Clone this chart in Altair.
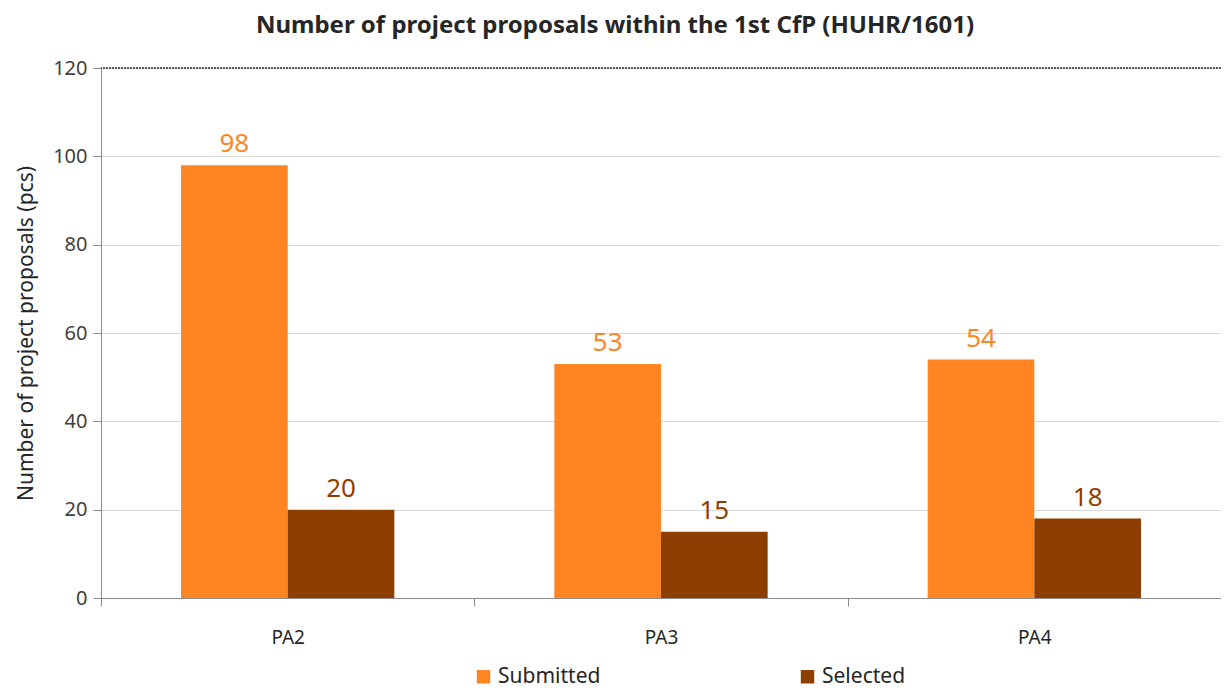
import altair as alt
import pandas as pd

categories = ["PA2", "PA3", "PA4"]
series = ["Submitted", "Selected"]
submitted = [98, 53, 54]
selected = [20, 15, 18]
colors = ["#FF8422", "#8E3E00"]

rows = []
for i, c in enumerate(categories):
    rows.append({"cat": c, "series": "Submitted", "value": submitted[i]})
    rows.append({"cat": c, "series": "Selected", "value": selected[i]})
df = pd.DataFrame(rows)

FONT = "Noto Sans"

x = alt.X("cat:N", sort=categories, title=None,
          scale=alt.Scale(paddingInner=0, paddingOuter=0),
          axis=alt.Axis(labelAngle=0, labelFontSize=19, labelColor="#262626",
                        labelPadding=22, tickBand="extent", tickSize=8,
                        tickColor="#8c8c8c", domainColor="#8c8c8c", grid=False))
xo = alt.XOffset("series:N", sort=series,
                 scale=alt.Scale(paddingOuter=0.75, paddingInner=0))
color = alt.Color("series:N", sort=series,
                  scale=alt.Scale(domain=series, range=colors),
                  legend=alt.Legend(title=None, orient="none", legendX=372, legendY=598,
                                    direction="horizontal", symbolType="square",
                                    symbolSize=180, symbolStrokeWidth=0,
                                    labelFontSize=21, labelColor="#262626",
                                    columnPadding=196, labelFont=FONT))
y = alt.Y("value:Q", title="Number of project proposals (pcs)",
          scale=alt.Scale(domain=[0, 120]),
          axis=alt.Axis(values=[0, 20, 40, 60, 80, 100, 120], labelFontSize=20,
                        labelColor="#404040", titleFontSize=21, titleColor="#262626",
                        titleFontWeight="normal", titlePadding=16, tickSize=8,
                        tickColor="#8c8c8c", domainColor="#8c8c8c",
                        gridColor="#d9d9d9", labelPadding=6))

base = alt.Chart(df)
bars = base.mark_bar().encode(x=x, xOffset=xo, y=y, color=color)
labels = base.mark_text(baseline="bottom", dy=-8, fontSize=26, font=FONT).encode(
    x=x, xOffset=xo, y=y, color=alt.Color("series:N", sort=series,
                                           scale=alt.Scale(domain=series, range=colors),
                                           legend=None),
    text="value:Q")
top = alt.Chart(df).mark_rule(color="#595959", strokeDash=[2, 1]).encode(y=alt.datum(120))

chart = alt.layer(bars, labels, top).properties(
    width=1120, height=530,
    title=alt.TitleParams("Number of project proposals within the 1st CfP (HUHR/1601)",
                          fontSize=24, fontWeight="bold", color="#262626", font=FONT,
                          anchor="middle", dx=-46, offset=20),
    autosize=alt.AutoSizeParams(type="none"),
    padding={"left": 93, "top": 60, "right": 0, "bottom": 90},
).configure(font=FONT).configure_view(stroke=None)

chart.save("out.html", embed_options={"renderer": "svg", "actions": False})
